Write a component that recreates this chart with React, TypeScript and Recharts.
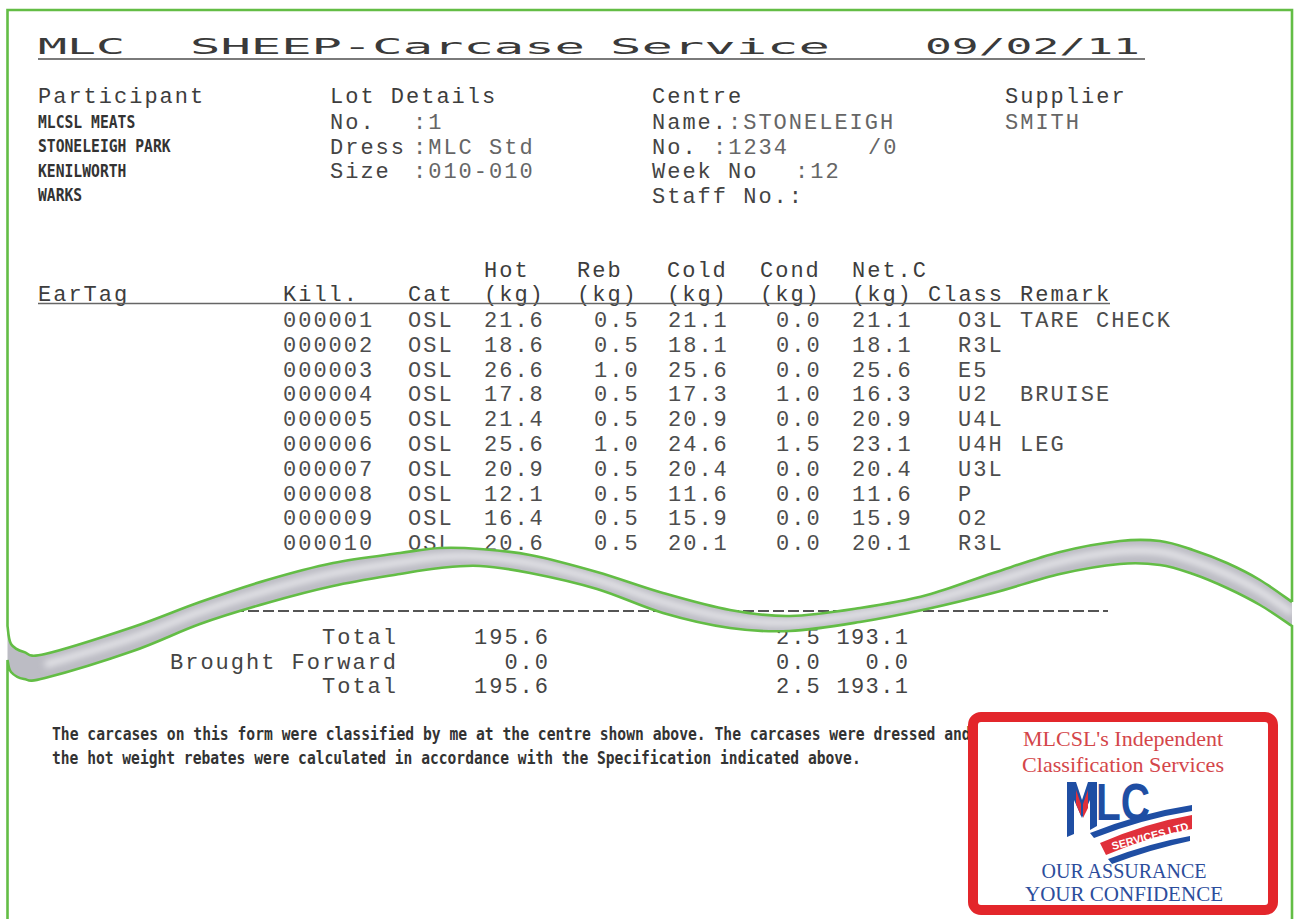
import React from 'react';
import { ScatterChart, Scatter, XAxis, YAxis, Customized } from 'recharts';

// ---------- data ----------
const KILL = ['000001', '000002', '000003', '000004', '000005', '000006', '000007', '000008', '000009', '000010'];
const CAT = ['OSL', 'OSL', 'OSL', 'OSL', 'OSL', 'OSL', 'OSL', 'OSL', 'OSL', 'OSL'];
const HOT = [21.6, 18.6, 26.6, 17.8, 21.4, 25.6, 20.9, 12.1, 16.4, 20.6];
const REB = [0.5, 0.5, 1.0, 0.5, 0.5, 1.0, 0.5, 0.5, 0.5, 0.5];
const COLD = [21.1, 18.1, 25.6, 17.3, 20.9, 24.6, 20.4, 11.6, 15.9, 20.1];
const COND = [0.0, 0.0, 0.0, 1.0, 0.0, 1.5, 0.0, 0.0, 0.0, 0.0];
const NET = [21.1, 18.1, 25.6, 16.3, 20.9, 23.1, 20.4, 11.6, 15.9, 20.1];
const CLASS = ['O3L', 'R3L', 'E5', 'U2', 'U4L', 'U4H', 'U3L', 'P', 'O2', 'R3L'];
const REMARK = ['TARE CHECK', '', '', 'BRUISE', '', 'LEG', '', '', '', ''];

const TOTAL_LABELS = ['Total', 'Brought Forward', 'Total'];
const TOTAL_HOT = [195.6, 0.0, 195.6];
const TOTAL_COND = [2.5, 0.0, 2.5];
const TOTAL_NET = [193.1, 0.0, 193.1];

const TITLE = ['MLC', 'SHEEP-Carcase', 'Service', '09/02/11'];
const PARTICIPANT = ['MLCSL MEATS', 'STONELEIGH PARK', 'KENILWORTH', 'WARKS'];
const LOT_LABELS = ['No.', 'Dress', 'Size'];
const LOT_VALUES = [':1', ':MLC Std', ':010-010'];
const SUPPLIER = 'SMITH';
const HEAD_TOP = ['Hot', 'Reb', 'Cold', 'Cond', 'Net.C'];
const HEAD_BOTTOM = ['EarTag', 'Kill.', 'Cat', '(kg)', '(kg)', '(kg)', '(kg)', '(kg)', 'Class', 'Remark'];
const FOOTER = [
  'The carcases on this form were classified by me at the centre shown above. The carcases were dressed and',
  'the hot weight rebates were calculated in accordance with the Specification indicated above.',
];
const BADGE_TOP = ["MLCSL's Independent", 'Classification Services'];
const BADGE_BOTTOM = ['OUR ASSURANCE', 'YOUR CONFIDENCE'];

// ---------- layout / style ----------
const W = 1298;
const H = 919;
const MONO = '"Liberation Mono", "DejaVu Sans Mono", monospace';
const COND_FONT = '"DejaVu Sans Mono", monospace';
const SERIF = '"Liberation Serif", "DejaVu Serif", serif';
const ADV = 15.2;
const LS = 2.0;
const FS = 22;
const GREEN = '#63bd45';

const f1 = (v: number) => v.toFixed(1);

const COLUMNS = [
  { name: 'kill', x: 283, values: KILL },
  { name: 'cat', x: 408, values: CAT },
  { name: 'hot', x: 484, values: HOT.map(f1) },
  { name: 'reb', x: 594, values: REB.map(f1) },
  { name: 'cold', x: 668, values: COLD.map(f1) },
  { name: 'cond', x: 776, values: COND.map(f1) },
  { name: 'net', x: 852, values: NET.map(f1) },
  { name: 'class', x: 958, values: CLASS },
  { name: 'remark', x: 1020, values: REMARK },
];

const HEAD_TOP_X = [484, 577, 667, 760, 852];
const HEAD_BOTTOM_X = [38, 283, 408, 484, 577, 667, 760, 852, 928, 1020];

const M = (x: number, y: number, s: string, fill = '#3d3d3d', extra: any = {}) => (
  <text x={x} y={y} fontFamily={MONO} fontSize={FS} letterSpacing={LS} fill={fill} {...extra}>
    {s}
  </text>
);

const cellShape = (props: any) => {
  const { cx, cy, payload } = props;
  if (!payload || !payload.label) return <g />;
  return (
    <text x={cx} y={cy + 7} fontFamily={MONO} fontSize={FS} letterSpacing={LS} fill="#4d4d4d">
      {payload.label}
    </text>
  );
};

const StaticParts = () => {
  // condensed print: monospaced font sized so its natural width matches, stretched vertically
  const narrow = (x: number, y: number, s: string, perChar = 8.85) => (
    <g transform={`translate(0,${y}) scale(1,1.18) translate(0,${-y})`}>
      <text x={x} y={y} fontFamily={COND_FONT} fontSize={perChar / 0.602} fontWeight={700} fill="#333">
        {s}
      </text>
    </g>
  );
  const titleX = [[38, 87], [190, 395], [610, 220], [925, 215]];
  const badgeTopLen = [200, 202];
  const badgeBottomLen = [165, 198];
  return (
    <g>
      {/* title */}
      {TITLE.map((s, i) => (
        <text
          key={'t' + i}
          x={titleX[i][0]}
          y={54}
          fontFamily={COND_FONT}
          fontSize={21}
          fill="#3a3a3a"
          textLength={titleX[i][1]}
          lengthAdjust="spacingAndGlyphs"
        >
          {s}
        </text>
      ))}
      <line x1={38} x2={1145} y1={59} y2={59} stroke="#7a7a7a" strokeWidth={2} />

      {/* section heads */}
      {M(38, 103, 'Participant')}
      {M(330, 103, 'Lot Details')}
      {M(652, 103, 'Centre')}
      {M(1005, 103, 'Supplier')}

      {PARTICIPANT.map((s, i) => (
        <g key={'p' + i}>{narrow(38, 128 + i * 24.5, s)}</g>
      ))}
      {LOT_LABELS.map((s, i) => (
        <g key={'l' + i}>
          {M(330, 129 + i * 24.5, s, '#444')}
          {M(413, 129 + i * 24.5, LOT_VALUES[i], '#666')}
        </g>
      ))}
      {M(652, 129, 'Name.', '#444')}
      {M(728, 129, ':STONELEIGH', '#666')}
      {M(652, 153.5, 'No.', '#444')}
      {M(713, 153.5, ':1234', '#666')}
      {M(868, 153.5, '/0', '#666')}
      {M(652, 178, 'Week No', '#444')}
      {M(795, 178, ':12', '#666')}
      {M(652, 202.5, 'Staff No.:', '#444')}
      {M(1005, 129, SUPPLIER, '#666')}

      {/* table header */}
      {HEAD_TOP.map((s, i) => (
        <g key={'ht' + i}>{M(HEAD_TOP_X[i], 277, s)}</g>
      ))}
      {HEAD_BOTTOM.map((s, i) => (
        <g key={'hb' + i}>{M(HEAD_BOTTOM_X[i], 301, s)}</g>
      ))}
      <line x1={38} x2={1110} y1={303.5} y2={303.5} stroke="#666" strokeWidth={1.6} />

      {/* dashed separator */}
      <line x1={233} x2={1108} y1={611} y2={611} stroke="#555" strokeWidth={2.2} strokeDasharray="11 4" />

      {/* totals */}
      {TOTAL_LABELS.map((s, i) => {
        const y = 644 + i * 24.5;
        const hot = f1(TOTAL_HOT[i]);
        const cnd = f1(TOTAL_COND[i]);
        const net = f1(TOTAL_NET[i]);
        return (
          <g key={'tot' + i}>
            {M(396 - (s.length * ADV - LS), y, s, '#444')}
            {M(548 - (hot.length * ADV - LS), y, hot, '#444')}
            {M(776, y, cnd, '#444')}
            {M(908 - (net.length * 14.6 - 1.4), y, net, '#444', { letterSpacing: 1.4 })}
          </g>
        );
      })}

      {/* footer */}
      {narrow(52, 740, FOOTER[0], 8.84)}
      {narrow(52, 764, FOOTER[1], 8.8)}

      {/* badge */}
      <rect x={973} y={717} width={300} height={193} rx={8} ry={8} fill="#fff" stroke="#e3262b" strokeWidth={10} />
      {BADGE_TOP.map((s, i) => (
        <text
          key={'bt' + i}
          x={1123}
          y={746 + i * 26}
          textAnchor="middle"
          fontFamily={SERIF}
          fontSize={21}
          fill="#d4464a"
          textLength={badgeTopLen[i]}
          lengthAdjust="spacingAndGlyphs"
        >
          {s}
        </text>
      ))}
      {BADGE_BOTTOM.map((s, i) => (
        <text
          key={'bb' + i}
          x={1124}
          y={878 + i * 23}
          textAnchor="middle"
          fontFamily={SERIF}
          fontSize={20}
          fill="#2c4d9c"
          textLength={badgeBottomLen[i]}
          lengthAdjust="spacingAndGlyphs"
        >
          {s}
        </text>
      ))}
      {/* MLC logo */}
      <g>
        <path d="M1067,782 L1076,782 L1082,800 L1088,782 L1097,782 L1097,826 L1090,830 L1090,800 L1082,818 L1074,800 L1074,834 L1067,837 Z" fill="#1f4ea3" />
        <path d="M1076,790 L1081,804 L1081,816 L1076,804 Z" fill="#e0303a" />
        <path d="M1083,804 L1088,790 L1088,808 L1083,818 Z" fill="#e0303a" />
        <text x={1096} y={820} fontFamily='"Liberation Sans", Arial, sans-serif' fontWeight={700} fontSize={52} fill="#1f4ea3" textLength={54} lengthAdjust="spacingAndGlyphs">
          LC
        </text>
        <path d="M1090,833 Q1140,813 1192,805 L1192,811 Q1142,819 1094,838 Z" fill="#1f4ea3" />
        <path d="M1100,843 Q1146,823 1192,815 L1192,829 Q1150,836 1106,855 Z" fill="#e0303a" />
        <text x={1150} y={840} textAnchor="middle" fontFamily='"Liberation Sans", Arial, sans-serif' fontWeight={700} fontSize={11} fill="#fff" transform="rotate(-15 1150 836)">
          SERVICES LTD
        </text>
        <path d="M1108,859 Q1150,843 1190,836 L1190,841 Q1152,849 1112,864 Z" fill="#1f4ea3" />
      </g>
    </g>
  );
};

// ---------- torn-page ribbon (overlay) ----------
const RX = [45, 133, 200, 267, 333, 400, 440, 480, 530, 597, 663, 730, 790, 860, 927, 993, 1060, 1120, 1160, 1193, 1227, 1260, 1292];
const RU = [654, 627, 602, 580, 563, 553, 548, 549, 555, 572, 593, 610, 616, 608, 595, 573, 552, 541, 541, 550, 563, 580, 602];
const RL = [678, 651, 624, 603, 586, 574, 568, 566, 573, 589, 613, 628, 631, 622, 609, 593, 574, 564, 565, 574, 588, 605, 626];

type P = [number, number];
function smooth(pts: P[], start: 'M' | 'L') {
  let d = `${start}${pts[0][0]},${pts[0][1]}`;
  for (let i = 0; i < pts.length - 1; i++) {
    const p0 = pts[i - 1] || pts[i];
    const p1 = pts[i];
    const p2 = pts[i + 1];
    const p3 = pts[i + 2] || p2;
    const c1 = [p1[0] + (p2[0] - p0[0]) / 6, p1[1] + (p2[1] - p0[1]) / 6];
    const c2 = [p2[0] - (p3[0] - p1[0]) / 6, p2[1] - (p3[1] - p1[1]) / 6];
    d += ` C${c1[0]},${c1[1]} ${c2[0]},${c2[1]} ${p2[0]},${p2[1]}`;
  }
  return d;
}

const Ribbon = () => {
  const upper: P[] = [[7.5, 626], [11, 644], [24, 652], ...RX.map((x, i) => [x, RU[i]] as P)];
  const lower: P[] = [[7.5, 660], [11, 672], [24, 679], ...RX.map((x, i) => [x, RL[i]] as P)];
  const mid: P[] = RX.map((x, i) => [x, RU[i] * 0.55 + RL[i] * 0.45] as P);
  const lowerRev = [...lower].reverse();
  const ribbon = smooth(upper, 'M') + ' ' + smooth(lowerRev, 'L') + ' Z';
  return (
    <svg width={W} height={H} style={{ position: 'absolute', left: 0, top: 0, pointerEvents: 'none' }}>
      <defs>
        <filter id="blurMid" x="-5%" y="-50%" width="110%" height="200%">
          <feGaussianBlur stdDeviation="3" />
        </filter>
        <clipPath id="ribClip">
          <path d={ribbon} />
        </clipPath>
      </defs>
      <path d={ribbon} fill="#bcbcc4" />
      <g clipPath="url(#ribClip)">
        <path d={smooth(mid, 'M')} fill="none" stroke="#e4e4e8" strokeWidth={7} filter="url(#blurMid)" />
      </g>
      <path d={`M1292,602 L1292,10 L7.5,10 ` + smooth(upper, 'L')} fill="none" stroke={GREEN} strokeWidth={2.6} />
      <path d={`M7.5,${H} ` + smooth(lower, 'L') + ` L1292,${H}`} fill="none" stroke={GREEN} strokeWidth={2.6} />
    </svg>
  );
};

export default function App() {
  return (
    <div style={{ position: 'absolute', left: 0, top: 0, width: W, height: H, background: '#fff' }}>
      <ScatterChart width={W} height={H} margin={{ top: 307.6, right: 0, bottom: 363.4, left: 0 }}>
        <XAxis type="number" dataKey="x" domain={[0, W]} hide allowDataOverflow />
        <YAxis type="category" dataKey="kill" hide allowDuplicatedCategory={false} reversed />
        <Customized component={StaticParts} />
        {COLUMNS.map((c) => (
          <Scatter
            key={c.name}
            name={c.name}
            data={KILL.map((k, i) => ({ x: c.x, kill: k, label: c.values[i] }))}
            shape={cellShape}
            isAnimationActive={false}
          />
        ))}
      </ScatterChart>
      <Ribbon />
    </div>
  );
}
